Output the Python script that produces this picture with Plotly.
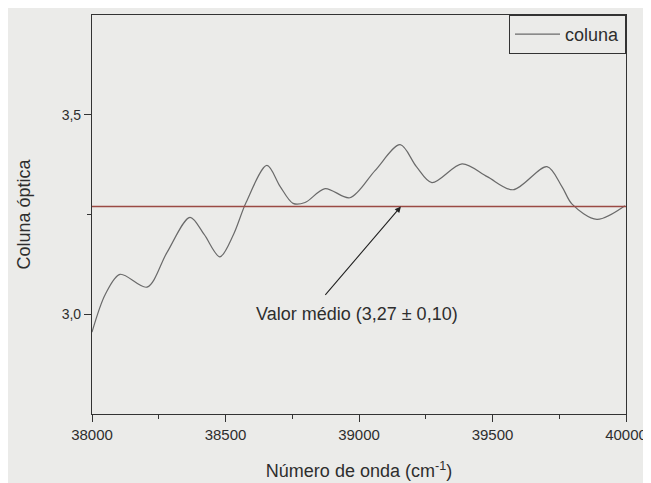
import plotly.graph_objects as go

# Data
wavenumber = [38000, 38050, 38105, 38206, 38281, 38367, 38420, 38479, 38530, 38577,
              38655, 38705, 38753, 38798, 38873, 38966, 39060, 39154, 39215, 39273,
              39386, 39480, 39577, 39704, 39760, 39798, 39891, 39996]
coluna = [2.955, 3.05, 3.10, 3.068, 3.155, 3.243, 3.20, 3.144, 3.20, 3.28,
          3.373, 3.32, 3.278, 3.28, 3.315, 3.292, 3.36, 3.425, 3.37, 3.33,
          3.377, 3.345, 3.312, 3.37, 3.32, 3.276, 3.238, 3.272]
mean_value = 3.27
x_tick_vals = [38000, 38500, 39000, 39500, 40000]
x_tick_labels = ["38000", "38500", "39000", "39500", "40000"]
y_tick_vals = [3.0, 3.5]
y_tick_labels = ["3,0", "3,5"]

BG = "#ebebe9"
TXT = "#2e2e2e"
FONT = "Liberation Sans, Arial, sans-serif"

fig = go.Figure()
fig.add_trace(go.Scatter(
    x=wavenumber, y=coluna, mode="lines", name="coluna",
    line=dict(color="#6a6a6a", width=1.2, shape="spline", smoothing=0.9),
))
fig.add_trace(go.Scatter(
    x=[38000, 40000], y=[mean_value, mean_value], mode="lines", showlegend=False,
    line=dict(color="#9a4a44", width=1.6),
))

# Arrow and the label
fig.add_annotation(x=39157, y=mean_value, ax=38869, ay=3.045, axref="x", ayref="y",
                   xref="x", yref="y", text="", showarrow=True, arrowhead=2,
                   arrowsize=1.1, arrowwidth=1.1, arrowcolor="#222")
fig.add_annotation(x=38993, y=3.0, xref="x", yref="y", showarrow=False,
                   text="Valor médio (3,27 ± 0,10)",
                   font=dict(size=18, color=TXT, family=FONT))

fig.update_layout(
    width=651, height=483,
    margin=dict(l=84, r=33, t=7, b=77),
    paper_bgcolor=BG, plot_bgcolor=BG,
    font=dict(family=FONT, color=TXT, size=14),
    showlegend=True,
    legend=dict(x=1, y=1, xanchor="right", yanchor="top",
                bgcolor=BG, bordercolor="#333", borderwidth=1,
                font=dict(size=18, color=TXT, family=FONT),
                itemwidth=45, tracegroupgap=0),
)
fig.update_xaxes(
    range=[38000, 40000], showgrid=False, zeroline=False, automargin=False,
    showline=True, linecolor="#333", linewidth=1.2, mirror=True,
    ticks="outside", ticklen=7, tickcolor="#333", tickwidth=1,
    tickvals=x_tick_vals, ticktext=x_tick_labels,
    tickfont=dict(size=15, color=TXT),
    minor=dict(ticks="outside", ticklen=4, dtick=250, tickcolor="#333", showgrid=False),
    title=dict(text="Número de onda (cm<sup>-1</sup>)", font=dict(size=18, color=TXT), standoff=22),
)
fig.update_yaxes(
    range=[2.75, 3.75], showgrid=False, zeroline=False, automargin=False,
    showline=True, linecolor="#333", linewidth=1.2, mirror=True,
    ticks="outside", ticklen=7, tickcolor="#333", tickwidth=1,
    tickvals=y_tick_vals, ticktext=y_tick_labels,
    tickfont=dict(size=14, color=TXT),
    minor=dict(ticks="outside", ticklen=4, tickvals=[3.25], tickcolor="#333", showgrid=False),
    title=dict(text="Coluna óptica", font=dict(size=18, color=TXT), standoff=26),
)

fig.write_html("out.html")
